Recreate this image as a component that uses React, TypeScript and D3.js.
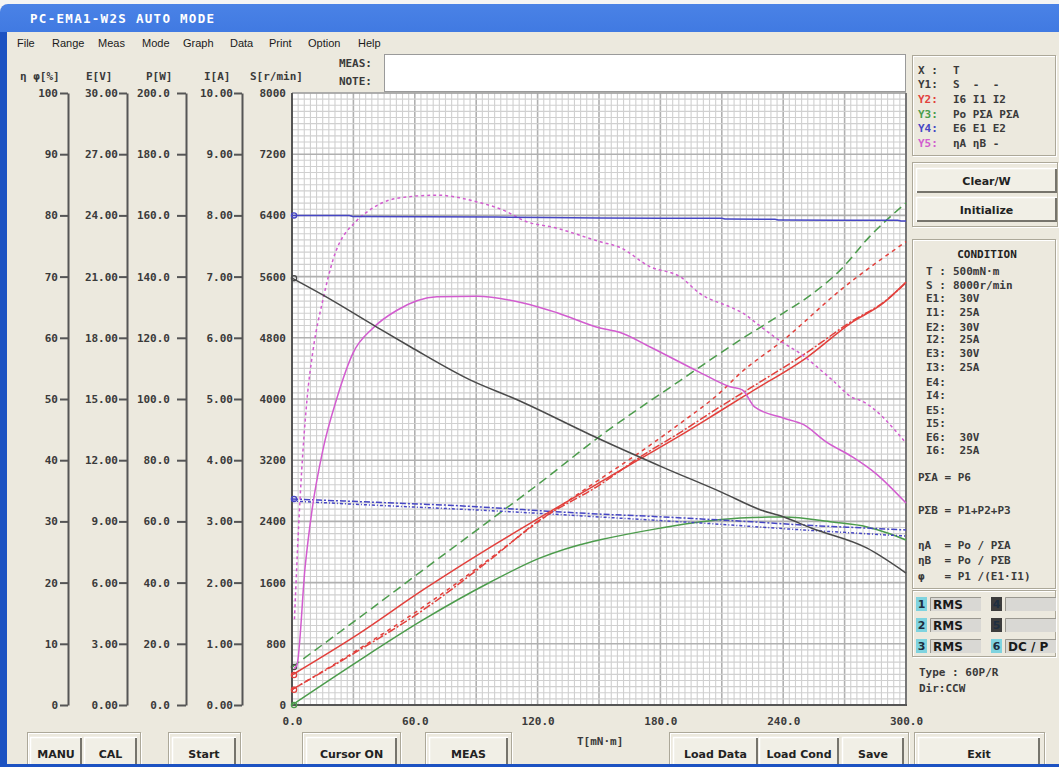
import React, { useEffect, useRef } from 'react';
import * as d3 from 'd3';

// readings off the screen, [T mN·m, value]
const speedS = [[0, 5580], [15, 5360], [42, 4930], [58, 4680], [87, 4250], [110, 3990], [146, 3530], [150, 3480], [181, 3110], [210, 2780], [229, 2550], [240, 2460], [254, 2310], [281, 2050], [300, 1725]];

const currentI6 = [[0, 0.49], [32, 1.15], [64, 1.88], [97, 2.58], [121, 3.06], [150, 3.63], [170, 4.02], [190, 4.41], [209, 4.8], [224, 5.11], [252, 5.69], [273, 6.24], [289, 6.57], [300, 6.91]];
const currentI1 = [[0, 0.25], [32, 0.88], [64, 1.55], [97, 2.38], [121, 3.02], [150, 3.59], [170, 4.05], [190, 4.46], [209, 4.87], [224, 5.18], [252, 5.77], [273, 6.26], [289, 6.58], [300, 6.9]];
const currentI2 = [[0, 0.25], [32, 0.9], [64, 1.6], [97, 2.4], [121, 3.01], [150, 3.68], [170, 4.13], [190, 4.61], [209, 5.1], [219, 5.42], [240, 5.96], [268, 6.78], [300, 7.57]];

const powerPo = [[0, 0], [32, 14.2], [64, 27.8], [97, 40.2], [121, 48.0], [146, 53.3], [150, 53.9], [180, 57.8], [199, 59.8], [219, 61.1], [233, 61.4], [240, 61.4], [264, 59.8], [281, 58.2], [291, 56.2], [300, 53.9]];
const powerPA = [[0, 12.4], [32, 28.1], [64, 44.1], [97, 60.5], [121, 72.5], [150, 87.6], [190, 106.2], [219, 119.3], [240, 128.1], [252, 133.3], [268, 142.2], [282, 152.9], [300, 164.1]];

const voltE6 = [[0, 24.0], [28, 24.0], [30, 23.94], [100, 23.92], [150, 23.87], [210, 23.86], [212, 23.82], [236, 23.81], [238, 23.77], [296, 23.76], [298, 23.72], [300, 23.72]];
const voltE1 = [[0, 10.1], [25, 10.0], [50, 9.9], [75, 9.8], [100, 9.66], [125, 9.5], [150, 9.36], [175, 9.25], [200, 9.12], [225, 8.98], [250, 8.82], [275, 8.7], [300, 8.58]];
const voltE2 = [[0, 10.0], [25, 9.87], [50, 9.75], [75, 9.63], [100, 9.51], [125, 9.37], [150, 9.22], [175, 9.07], [200, 8.92], [225, 8.75], [250, 8.58], [275, 8.43], [300, 8.28]];

const etaA = [[1, 6], [2.4, 6.5], [6.4, 22.5], [9.8, 31.9], [15.1, 41.7], [22, 50.2], [29.8, 57.5], [39.6, 61.6], [51.3, 64.5], [70.8, 66.7], [90.4, 66.8], [112.9, 65.7], [129.5, 64.1], [150.5, 61.6], [160, 60.9], [175, 58.5], [199, 54.4], [214, 52.0], [220, 51.5], [226, 48.7], [240, 46.9], [250, 45.8], [261, 43.0], [274, 40.5], [285, 37.9], [300, 33.0]];
const etaB = [[1.2, 14], [3.9, 33.5], [7.3, 49.8], [10.3, 58.0], [15.1, 66.2], [20, 72.7], [31.8, 79.2], [38.1, 80.9], [51.3, 82.8], [70.8, 83.3], [90.4, 82.2], [105, 80.6], [112.9, 79.2], [129.5, 77.9], [150.5, 75.7], [160, 74.8], [175, 71.6], [190, 69.9], [199, 67.3], [215, 64.9], [220, 64.1], [228, 62.1], [238, 59.6], [248, 57.5], [264, 53.1], [274, 50.2], [277.5, 49.8], [300, 42.8]];

const xTicks = [0, 60, 120, 180, 240, 300];
const etaTicks = [0, 10, 20, 30, 40, 50, 60, 70, 80, 90, 100];
const voltTicks = [0, 3, 6, 9, 12, 15, 18, 21, 24, 27, 30];
const powerTicks = [0, 20, 40, 60, 80, 100, 120, 140, 160, 180, 200];
const currentTicks = [0, 1, 2, 3, 4, 5, 6, 7, 8, 9, 10];
const speedTicks = [0, 800, 1600, 2400, 3200, 4000, 4800, 5600, 6400, 7200, 8000];

const MONO = '"DejaVu Sans Mono", monospace';
const SANS = '"DejaVu Sans", sans-serif';
const MENU = '"Liberation Sans", Arial, sans-serif';
const INK = '#3a3a3a';
const RED = '#e2403c';
const GREEN = '#4c9c4c';
const BLUE = '#4646c4';
const MAG = '#d25ccf';
const DARK = '#4a4a4a';

export default function App() {
  const ref = useRef<SVGSVGElement>(null);

  const createChart = () => {
    const svg = d3.select(ref.current);
    svg.selectAll('*').remove();

    const defs = svg.append('defs');
    const grad = defs.append('linearGradient').attr('id', 'titlebar').attr('x1', 0).attr('y1', 0).attr('x2', 0).attr('y2', 1);
    grad.append('stop').attr('offset', '0%').attr('stop-color', '#4a82e6');
    grad.append('stop').attr('offset', '15%').attr('stop-color', '#2360d4');
    grad.append('stop').attr('offset', '60%').attr('stop-color', '#1852c6');
    grad.append('stop').attr('offset', '100%').attr('stop-color', '#1046b0');

    const txt = (x, y, s, o: any = {}) =>
      svg
        .append('text')
        .attr('x', x)
        .attr('y', y)
        .attr('dy', '0.35em')
        .attr('text-anchor', o.anchor || 'start')
        .style('white-space', 'pre')
        .style('font-family', o.font || MONO)
        .style('font-size', (o.size || 11) + 'px')
        .style('font-weight', o.weight || 'bold')
        .style('fill', o.color || INK)
        .text(s);

    const etched = (x, y, w, h) => {
      svg.append('rect').attr('x', x + 1).attr('y', y + 1).attr('width', w).attr('height', h).attr('fill', 'none').attr('stroke', '#fff');
      svg.append('rect').attr('x', x).attr('y', y).attr('width', w).attr('height', h).attr('fill', 'none').attr('stroke', '#aca899');
    };

    const button = (x, y, w, h, label) => {
      svg.append('rect').attr('x', x).attr('y', y).attr('width', w).attr('height', h).attr('fill', '#f1efe6');
      svg.append('path').attr('d', `M${x + 0.5},${y + h}V${y + 0.5}H${x + w}`).attr('fill', 'none').attr('stroke', '#fff').attr('stroke-width', 1.5);
      svg.append('path').attr('d', `M${x + w - 1},${y + 1}V${y + h - 1}H${x + 1}`).attr('fill', 'none').attr('stroke', '#76746c').attr('stroke-width', 2);
      txt(x + w / 2, y + h / 2 + 1, label, { font: SANS, anchor: 'middle', color: '#222' });
    };

    // window frame
    svg.append('rect').attr('width', 1059).attr('height', 767).attr('fill', '#f4f4f4');
    svg.append('rect').attr('x', 0).attr('y', 4).attr('width', 1070).attr('height', 770).attr('rx', 8).attr('fill', 'url(#titlebar)');
    svg.append('rect').attr('x', 0).attr('y', 32).attr('width', 8).attr('height', 740).attr('fill', '#1c52c2');
    svg.append('rect').attr('x', 7).attr('y', 32).attr('width', 1052).attr('height', 732).attr('fill', '#ece9de');
    txt(30, 19, 'PC-EMA1-W2S AUTO MODE', { size: 12.5, color: '#fff' }).style('letter-spacing', '1.3px');

    // menu
    const menu = [['File', 17], ['Range', 52], ['Meas', 98], ['Mode', 142], ['Graph', 183], ['Data', 230], ['Print', 269], ['Option', 308], ['Help', 358]];
    menu.forEach(([m, x]) => txt(x, 43, m, { font: MENU, weight: 'normal', color: '#1a1a1a' }));

    // meas / note
    txt(372, 63, 'MEAS:', { anchor: 'end' });
    txt(372, 81, 'NOTE:', { anchor: 'end' });
    svg.append('rect').attr('x', 384.5).attr('y', 54.5).attr('width', 521).attr('height', 37).attr('fill', '#fff').attr('stroke', '#9a9a9a');

    const left = 292, right = 906, top = 93, bottom = 705;
    const x = d3.scaleLinear().domain([0, 300]).range([left, right]);
    const yS = d3.scaleLinear().domain([0, 8000]).range([bottom, top]);
    const yI = d3.scaleLinear().domain([0, 10]).range([bottom, top]);
    const yP = d3.scaleLinear().domain([0, 200]).range([bottom, top]);
    const yE = d3.scaleLinear().domain([0, 30]).range([bottom, top]);
    const yEta = d3.scaleLinear().domain([0, 100]).range([bottom, top]);

    // plot grid
    svg.append('rect').attr('x', left).attr('y', top).attr('width', right - left).attr('height', bottom - top).attr('fill', '#fff');
    const grid = svg.append('g');
    d3.range(0, 301, 3).forEach((t, i) => {
      grid.append('line').attr('x1', x(t)).attr('x2', x(t)).attr('y1', top).attr('y2', bottom)
        .attr('stroke', i % 10 === 0 ? '#b0b0b0' : '#d0d0d0').attr('stroke-width', i % 10 === 0 ? 1.6 : 1.1);
    });
    d3.range(0, 8001, 80).forEach((v, i) => {
      grid.append('line').attr('x1', left).attr('x2', right).attr('y1', yS(v)).attr('y2', yS(v))
        .attr('stroke', i % 10 === 0 ? '#b0b0b0' : '#d0d0d0').attr('stroke-width', i % 10 === 0 ? 1.6 : 1.1);
    });
    svg.append('line').attr('x1', left).attr('x2', right).attr('y1', top).attr('y2', top).attr('stroke', '#999');
    svg.append('line').attr('x1', right).attr('x2', right).attr('y1', top).attr('y2', bottom + 1).attr('stroke', '#777').attr('stroke-width', 2);
    svg.append('line').attr('x1', left).attr('x2', left).attr('y1', top).attr('y2', bottom + 1).attr('stroke', '#555').attr('stroke-width', 2);
    svg.append('line').attr('x1', left - 1).attr('x2', right + 1).attr('y1', bottom).attr('y2', bottom).attr('stroke', '#555').attr('stroke-width', 2);

    // left axes
    const styleAxis = (g) => {
      g.selectAll('path.domain').attr('stroke', '#555').attr('stroke-width', 2);
      g.selectAll('.tick line').attr('stroke', '#555').attr('stroke-width', 2);
      g.selectAll('.tick text')
        .style('font-family', MONO)
        .style('font-size', '11px')
        .style('font-weight', 'bold')
        .style('fill', INK);
    };
    const axes = [
      { s: yEta, ticks: etaTicks, fmt: d3.format('d'), at: 68, size: 8, pad: 2, title: 'η φ[%]', tx: 20 },
      { s: yE, ticks: voltTicks, fmt: d3.format('.2f'), at: 127, size: 8, pad: 1, title: 'E[V]', tx: 86 },
      { s: yP, ticks: powerTicks, fmt: d3.format('.1f'), at: 186, size: 9, pad: 7, title: 'P[W]', tx: 146 },
      { s: yI, ticks: currentTicks, fmt: d3.format('.2f'), at: 242, size: 8, pad: 1, title: 'I[A]', tx: 204 },
    ];
    axes.forEach((a) => {
      const g = svg.append('g').attr('transform', `translate(${a.at},0)`)
        .call(d3.axisLeft(a.s).tickValues(a.ticks).tickFormat(a.fmt).tickSize(a.size).tickSizeOuter(0).tickPadding(a.pad));
      styleAxis(g);
      txt(a.tx, 76, a.title);
    });
    const gS = svg.append('g').attr('transform', `translate(${left},0)`)
      .call(d3.axisLeft(yS).tickValues(speedTicks).tickFormat(d3.format('d')).tickSize(0).tickPadding(6));
    gS.select('path.domain').remove();
    styleAxis(gS);
    txt(250, 76, 'S[r/min]');

    const gX = svg.append('g').attr('transform', `translate(0,${bottom})`)
      .call(d3.axisBottom(x).tickValues(xTicks).tickFormat(d3.format('.1f')).tickSize(0).tickPadding(12));
    gX.select('path.domain').remove();
    styleAxis(gX);
    txt(577, 741, 'T[mN·m]');

    // series
    const series = [
      { data: powerPo, y: yP, color: GREEN, dash: null, mark: true },
      { data: powerPA, y: yP, color: GREEN, dash: '9,5', mark: true, markColor: DARK },
      { data: voltE2, y: yE, color: BLUE, dash: '3,2,1,2', mark: false },
      { data: voltE1, y: yE, color: BLUE, dash: '6,2,2,2', mark: true },
      { data: currentI2, y: yI, color: RED, dash: '4,4', mark: false },
      { data: currentI1, y: yI, color: RED, dash: '8,2,2,2', mark: true },
      { data: currentI6, y: yI, color: RED, dash: null, mark: true },
      { data: etaB, y: yEta, color: MAG, dash: '3,3', mark: false },
      { data: etaA, y: yEta, color: MAG, dash: null, mark: false },
      { data: voltE6, y: yE, color: BLUE, dash: null, mark: true },
      { data: speedS, y: yS, color: DARK, dash: null, mark: true },
    ];
    series.forEach((s) => {
      const line = d3.line().x((d) => x(d[0])).y((d) => s.y(d[1])).curve(d3.curveMonotoneX);
      svg.append('path')
        .datum(s.data)
        .attr('d', line)
        .attr('fill', 'none')
        .attr('stroke', s.color)
        .attr('stroke-width', 1.5)
        .attr('stroke-dasharray', s.dash);
      if (s.mark) {
        svg.append('circle')
          .attr('cx', x(s.data[0][0]) + 2)
          .attr('cy', s.y(s.data[0][1]))
          .attr('r', 2.6)
          .attr('fill', 'none')
          .attr('stroke', s.markColor || s.color)
          .attr('stroke-width', 1.3);
      }
    });

    // right panel: legend
    etched(912.5, 55.5, 143, 100);
    const legend = [['X :', INK, 'T'], ['Y1:', INK, 'S  -  -'], ['Y2:', RED, 'I6 I1 I2'], ['Y3:', GREEN, 'Po PΣA PΣA'], ['Y4:', BLUE, 'E6 E1 E2'], ['Y5:', MAG, 'ηA ηB -']];
    legend.forEach(([k, c, v], i) => {
      txt(918, 70 + i * 14.6, k, { color: c });
      txt(953, 70 + i * 14.6, v);
    });

    etched(912.5, 162.5, 145, 64);
    button(916, 168, 141, 25, 'Clear/W');
    button(916, 197, 141, 25, 'Initialize');

    // condition box
    etched(912.5, 239.5, 143, 349);
    txt(987, 254, 'CONDITION', { anchor: 'middle', color: '#222' });
    const cond = [['T :', '500mN·m', 271], ['S :', '8000r/min', 285], ['E1:', ' 30V', 298], ['I1:', ' 25A', 312], ['E2:', ' 30V', 327], ['I2:', ' 25A', 339], ['E3:', ' 30V', 353], ['I3:', ' 25A', 367], ['E4:', '', 382], ['I4:', '', 395], ['E5:', '', 410], ['I5:', '', 423], ['E6:', ' 30V', 437], ['I6:', ' 25A', 450]];
    cond.forEach(([k, v, yy]) => {
      txt(926, yy, k);
      txt(953, yy, v);
    });
    const formulas = [['PΣA = P6', 477], ['PΣB = P1+P2+P3', 510], ['ηA  = Po / PΣA', 545], ['ηB  = Po / PΣB', 560], ['φ   = P1 /(E1·I1)', 576]];
    formulas.forEach(([f, yy]) => txt(918, yy, f));

    // channels
    etched(912.5, 590.5, 143, 66);
    const chans = [['1', '#7fd3df', 'RMS', 604], ['2', '#7fd3df', 'RMS', 625], ['3', '#7fd3df', 'RMS', 646]];
    const chans2 = [['4', '#3c3c3c', '', 604], ['5', '#3c3c3c', '', 625], ['6', '#7fd3df', 'DC / P', 646]];
    [[chans, 916, 930, 51], [chans2, 991, 1005, 51]].forEach(([list, nx, fx, fw]: any) => {
      list.forEach(([n, c, lab, yy]) => {
        svg.append('rect').attr('x', nx).attr('y', yy - 7).attr('width', 11).attr('height', 14).attr('fill', c);
        txt(nx + 5.5, yy + 0.5, n, { font: SANS, anchor: 'middle', color: '#1e2e40' });
        svg.append('rect').attr('x', fx).attr('y', yy - 7).attr('width', fw).attr('height', 14).attr('fill', '#d9d8d4');
        svg.append('path').attr('d', `M${fx + 0.5},${yy + 7}V${yy - 6.5}H${fx + fw}`).attr('fill', 'none').attr('stroke', '#9a9890');
        txt(fx + 3, yy + 0.5, lab, { font: SANS, size: 12, color: '#1a1a1a' });
      });
    });
    txt(919, 672, 'Type : 60P/R');
    txt(919, 688, 'Dir:CCW');

    // bottom buttons
    etched(27.5, 732.5, 113, 40);
    etched(168.5, 732.5, 72, 40);
    etched(302.5, 732.5, 98, 40);
    etched(425.5, 732.5, 86, 40);
    etched(669.5, 732.5, 239, 40);
    etched(914.5, 732.5, 130, 40);
    const bottomBtns = [['MANU', 30, 52], ['CAL', 84, 53], ['Start', 172, 64], ['Cursor ON', 306, 91], ['MEAS', 429, 79], ['Load Data', 673, 85], ['Load Cond', 759, 80], ['Save', 842, 62], ['Exit', 918, 122]];
    bottomBtns.forEach(([l, bx, bw]) => button(bx, 737, bw, 32, l));
    svg.append('rect').attr('x', 0).attr('y', 764).attr('width', 1059).attr('height', 4).attr('fill', '#1c52c2');
  };

  useEffect(() => {
    createChart();
  }, []);

  return (
    <div style={{ position: 'absolute', left: 0, top: 0 }}>
      <svg ref={ref} width={1059} height={767} style={{ display: 'block' }}></svg>
    </div>
  );
}
